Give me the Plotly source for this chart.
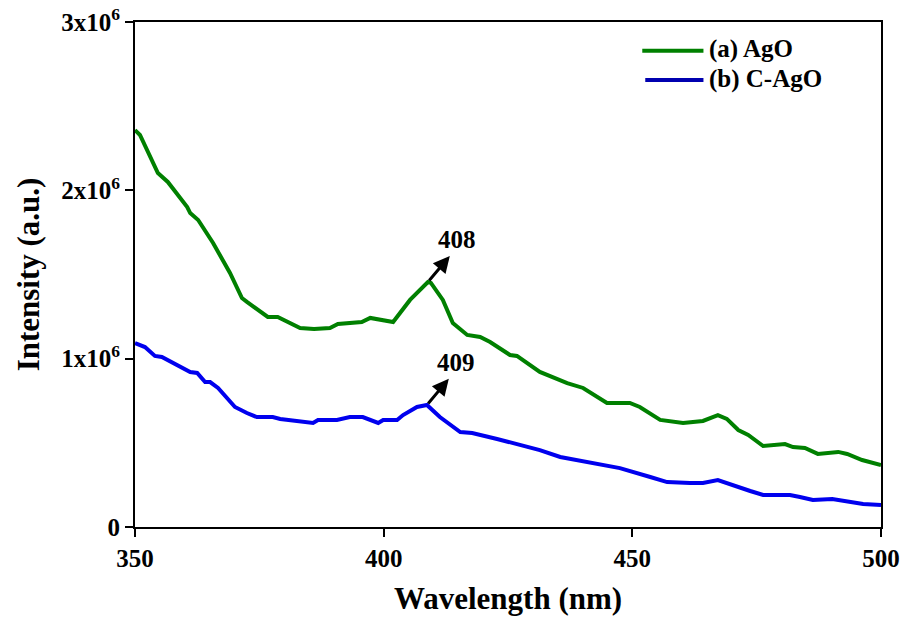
import plotly.graph_objects as go

# Wavelength (nm) and intensity (x1e6)
ago_wl = [350.0, 351.0, 354.6, 356.6, 360.5, 361.1, 362.7, 365.7, 369.1, 371.5, 372.5,
          376.7, 378.7, 383.2, 386.0, 389.2, 390.8, 395.6, 397.3, 401.9, 405.3, 408.9,
          409.5, 411.9, 413.9, 416.8, 419.4, 421.4, 425.4, 426.8, 431.4, 436.9, 440.1,
          444.9, 449.5, 451.5, 455.6, 460.2, 464.2, 467.2, 469.0, 471.3, 473.3, 476.3,
          480.7, 482.3, 484.7, 487.3, 491.4, 493.2, 496.2, 500.0]
ago_int = [2.358, 2.329, 2.103, 2.050, 1.901, 1.865, 1.824, 1.687, 1.509, 1.360, 1.337,
           1.248, 1.248, 1.182, 1.176, 1.182, 1.206, 1.218, 1.242, 1.218, 1.349, 1.455,
           1.450, 1.349, 1.212, 1.141, 1.129, 1.099, 1.022, 1.016, 0.921, 0.855, 0.826,
           0.737, 0.737, 0.713, 0.636, 0.618, 0.630, 0.665, 0.642, 0.576, 0.547, 0.481,
           0.493, 0.475, 0.469, 0.434, 0.446, 0.434, 0.398, 0.368]

cago_wl = [350.0, 352.0, 354.0, 355.4, 361.1, 362.5, 364.1, 365.1, 366.7, 370.1, 372.5,
           374.5, 377.7, 379.2, 385.8, 386.8, 390.6, 393.2, 395.8, 398.9, 399.9, 402.7,
           403.9, 406.7, 408.7, 411.3, 415.4, 417.8, 422.8, 427.4, 431.4, 435.5, 443.5,
           447.5, 453.6, 457.0, 461.6, 464.2, 467.2, 471.1, 473.7, 476.3, 481.7, 483.7,
           486.3, 490.2, 493.8, 496.4, 500.0]
cago_int = [1.093, 1.069, 1.016, 1.010, 0.921, 0.915, 0.861, 0.861, 0.826, 0.713, 0.677,
            0.653, 0.653, 0.642, 0.618, 0.636, 0.636, 0.653, 0.653, 0.618, 0.636, 0.636,
            0.665, 0.713, 0.725, 0.653, 0.564, 0.558, 0.523, 0.487, 0.457, 0.416, 0.368,
            0.350, 0.297, 0.267, 0.261, 0.261, 0.279, 0.238, 0.214, 0.190, 0.190, 0.178,
            0.160, 0.166, 0.149, 0.137, 0.131]

series_names = ["(a) AgO", "(b) C-AgO"]
peak_labels = ["408", "409"]
y_tickvals = [0, 1e6, 2e6, 3e6]
y_ticktext = ["0", "1x10<sup>6</sup>", "2x10<sup>6</sup>", "3x10<sup>6</sup>"]
x_tickvals = [350, 400, 450, 500]

FONT = "Liberation Serif"
line_colors = ["#008000", "#0000EE"]
legend_colors = ["#008000", "#0000B0"]

fig = go.Figure()
fig.add_trace(go.Scatter(x=ago_wl, y=[v * 1e6 for v in ago_int], mode="lines",
                         name=series_names[0], showlegend=False,
                         line=dict(color=line_colors[0], width=4)))
fig.add_trace(go.Scatter(x=cago_wl, y=[v * 1e6 for v in cago_int], mode="lines",
                         name=series_names[1], showlegend=False,
                         line=dict(color=line_colors[1], width=4)))

annotations = []
shapes = []
for wl, it, lab in [(ago_wl, ago_int, peak_labels[0]), (cago_wl, cago_int, peak_labels[1])]:
    i = max(range(len(wl)), key=lambda k: it[k] if 400 < wl[k] < 415 else -1)
    px, py = wl[i], it[i] * 1e6
    # arrow from the peak pointing up-right to the label
    annotations.append(dict(x=px + 4.4, y=py + 0.155e6, xref="x", yref="y",
                            ax=px, ay=py, axref="x", ayref="y",
                            showarrow=True, arrowhead=2, arrowsize=1.1, arrowwidth=3,
                            arrowcolor="black", text="", standoff=0, startstandoff=0))
    annotations.append(dict(x=px + 5.8, y=py + 0.25e6, xref="x", yref="y",
                            text="<b>" + lab + "</b>", showarrow=False,
                            font=dict(family=FONT, size=25, color="black")))

# custom legend (longer line samples than plotly's built-in legend)
legend_rows = [(0.943, 0.68, 0.762), (0.885, 0.684, 0.762)]
for (yy, x0, x1), name, col in zip(legend_rows, series_names, legend_colors):
    shapes.append(dict(type="line", xref="paper", yref="paper", x0=x0, x1=x1,
                       y0=yy, y1=yy, line=dict(color=col, width=4)))
    annotations.append(dict(x=x1 + 0.005, y=yy + 0.003, xref="paper", yref="paper",
                            xanchor="left", yanchor="middle", showarrow=False,
                            text="<b>" + name + "</b>",
                            font=dict(family=FONT, size=25, color="black")))

fig.update_layout(
    width=906, height=618,
    margin=dict(l=135, r=25, t=22, b=91),
    plot_bgcolor="white", paper_bgcolor="white",
    font=dict(family=FONT, color="black"),
    showlegend=False,
    annotations=annotations,
    shapes=shapes,
)
fig.update_xaxes(range=[350, 500], tickvals=x_tickvals, automargin=False,
                 ticktext=["<b>%d</b>" % v for v in x_tickvals],
                 ticks="outside", ticklen=8, tickwidth=2, tickcolor="black",
                 showline=True, linewidth=2, linecolor="black", mirror=True,
                 showgrid=False, zeroline=False,
                 tickfont=dict(family=FONT, size=25, color="black"),
                 title=dict(text="<b>Wavelength (nm)</b>", standoff=16,
                            font=dict(family=FONT, size=31, color="black")))
fig.update_yaxes(range=[0, 3e6], tickvals=y_tickvals, automargin=False,
                 ticktext=["<b>" + t + "</b>" for t in y_ticktext],
                 ticks="outside", ticklen=8, tickwidth=2, tickcolor="black",
                 showline=True, linewidth=2, linecolor="black", mirror=True,
                 showgrid=False, zeroline=False,
                 tickfont=dict(family=FONT, size=25, color="black"),
                 title=dict(text="<b>Intensity (a.u.)</b>", standoff=12,
                            font=dict(family=FONT, size=31, color="black")))

fig.write_html("out.html")
